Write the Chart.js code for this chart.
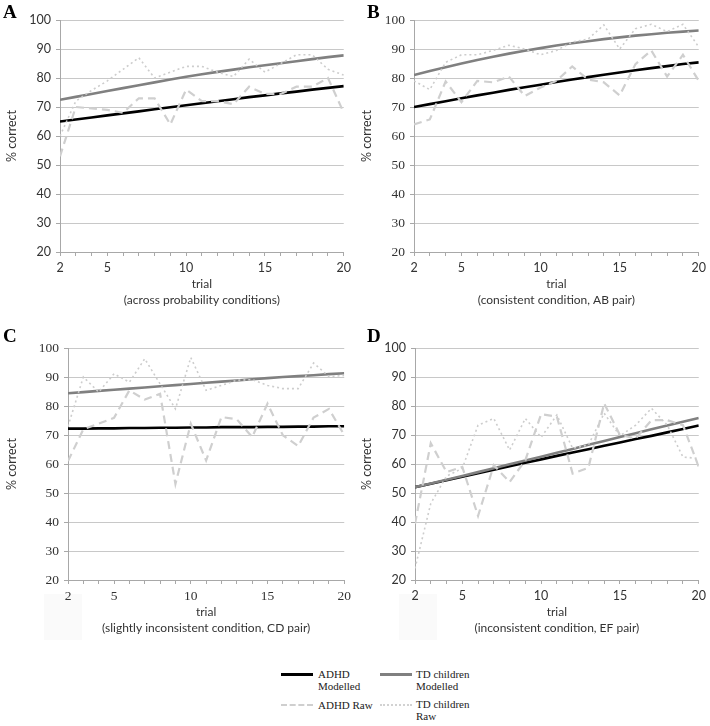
<!DOCTYPE html>
<html>
<head>
<meta charset="utf-8">
<script src="https://cdn.jsdelivr.net/npm/chart.js@4.4.1/dist/chart.umd.min.js"></script>
<style>
  body { margin: 0; background: #fff; }
  #page { position: relative; width: 710px; height: 726px; overflow: hidden; background: #fff; }
  canvas { position: absolute; }
  .letter { position: absolute; font: bold 19px "Liberation Serif", serif; color: #000; }
  .ghost { position: absolute; width: 38px; height: 46px; background: #fafafa; }
  .sample { position: absolute; width: 32px; height: 0; }
  .legtext { position: absolute; font: 11px "Liberation Serif", serif; line-height: 12px; color: #222; }
</style>
</head>
<body>
<div id="page">
  <div class="ghost" style="left:44px;top:594px"></div>
  <div class="ghost" style="left:399px;top:594px"></div>
  <canvas id="chartA" width="355" height="312" style="left:0;top:0"></canvas>
  <canvas id="chartB" width="355" height="312" style="left:355px;top:0"></canvas>
  <canvas id="chartC" width="355" height="312" style="left:0;top:328px"></canvas>
  <canvas id="chartD" width="355" height="312" style="left:355px;top:328px"></canvas>
  <div class="letter" style="left:3px;top:1px">A</div>
  <div class="letter" style="left:367px;top:1px">B</div>
  <div class="letter" style="left:3px;top:325px">C</div>
  <div class="letter" style="left:367px;top:325px">D</div>

  <div class="sample" style="left:281px;top:673px;border-top:3px solid #000"></div>
  <div class="legtext" style="left:318px;top:668px">ADHD<br>Modelled</div>
  <div class="sample" style="left:380px;top:673px;border-top:3px solid #808080"></div>
  <div class="legtext" style="left:416px;top:668px">TD children<br>Modelled</div>
  <div class="sample" style="left:281px;top:704px;border-top:2px dashed #cfcfcf"></div>
  <div class="legtext" style="left:318px;top:699px">ADHD Raw</div>
  <div class="sample" style="left:380px;top:704px;border-top:2px dotted #d2d2d2"></div>
  <div class="legtext" style="left:416px;top:698px">TD children<br>Raw</div>
</div>
<script>
const trials = [2, 3, 4, 5, 6, 7, 8, 9, 10, 11, 12, 13, 14, 15, 16, 17, 18, 19, 20];
const xTickLabels = [2, 5, 10, 15, 20];
const seriesNames = ['ADHD Modelled', 'TD children Modelled', 'ADHD Raw', 'TD children Raw'];

// A: across probability conditions
const adhdModelA = [65.0, 65.7, 66.4, 67.1, 67.8, 68.5, 69.2, 69.9, 70.6, 71.3, 72.0, 72.7, 73.4, 74.0, 74.7, 75.3, 76.0, 76.6, 77.2];
const tdModelA = [72.5, 73.5, 74.5, 75.5, 76.5, 77.5, 78.5, 79.5, 80.4, 81.3, 82.1, 82.9, 83.7, 84.4, 85.1, 85.8, 86.5, 87.2, 87.8];
const adhdRawA = [53, 70, 69.5, 69, 68, 73, 73, 64, 76, 72, 72, 71, 77, 74.5, 74.5, 77, 77, 80, 68];
const tdRawA = [60, 72, 75.7, 79, 83, 87, 80, 82, 84, 84, 82, 80.5, 86.5, 82, 85, 88, 88, 83, 81];

// B: consistent condition, AB pair
const adhdModelB = [70.0, 71.0, 72.0, 73.0, 74.0, 74.9, 75.9, 76.8, 77.7, 78.6, 79.5, 80.3, 81.1, 81.9, 82.7, 83.4, 84.1, 84.8, 85.4];
const tdModelB = [81.0, 82.4, 83.7, 85.0, 86.2, 87.3, 88.4, 89.4, 90.3, 91.2, 92.0, 92.7, 93.4, 94.0, 94.6, 95.1, 95.6, 96.0, 96.4];
const adhdRawB = [64, 65.7, 78.8, 71.7, 79, 78.5, 80.5, 73.8, 76.7, 79, 84, 79.5, 78.5, 74, 84.8, 89.5, 80.5, 88, 79];
const tdRawB = [79, 76, 85.4, 88, 88, 89.5, 91.3, 90, 88, 89.5, 92.4, 93.4, 98.3, 90, 97, 98.5, 96, 98.5, 90.7];

// C: slightly inconsistent condition, CD pair
const adhdModelC = [72.2, 72.2, 72.3, 72.3, 72.4, 72.4, 72.5, 72.5, 72.6, 72.6, 72.7, 72.7, 72.7, 72.8, 72.8, 72.9, 72.9, 73.0, 73.0];
const tdModelC = [84.4, 84.8, 85.2, 85.6, 86.0, 86.4, 86.8, 87.2, 87.6, 88.0, 88.4, 88.8, 89.2, 89.6, 90.0, 90.3, 90.6, 91.0, 91.3];
const adhdRawC = [61, 72, 73.9, 75.9, 85.4, 82.2, 84.2, 53.1, 73.9, 61.2, 76.2, 75.4, 69.3, 80.8, 69.9, 66.2, 76, 79, 70];
const tdRawC = [73, 90, 84.8, 91.1, 88.2, 96.3, 87.6, 79, 96.7, 85.4, 87.1, 88.9, 89.1, 87.1, 86, 86, 94.8, 90.2, 90.5];

// D: inconsistent condition, EF pair
const adhdModelD = [52.0, 53.2, 54.4, 55.6, 56.8, 58.0, 59.2, 60.4, 61.6, 62.8, 64.0, 65.1, 66.3, 67.4, 68.6, 69.7, 70.9, 72.1, 73.3];
const tdModelD = [52.0, 53.3, 54.6, 55.9, 57.2, 58.5, 59.9, 61.2, 62.5, 63.9, 65.2, 66.6, 67.9, 69.3, 70.6, 72.0, 73.3, 74.6, 75.9];
const adhdRawD = [39.4, 67.2, 57.2, 59, 42.1, 59.6, 53.8, 61.3, 77.2, 76.3, 56.7, 58.7, 80.9, 70, 68.8, 75.1, 75.1, 73.4, 59];
const tdRawD = [24, 46.4, 55.8, 58.5, 73.4, 75.7, 64.8, 75.7, 69.2, 76.9, 65.4, 66.6, 77.5, 69.7, 73.4, 79.2, 73.4, 62.4, 61.9];

const sans = { family: 'Lato', size: 12.5 };
const serif = { family: 'Liberation Serif', size: 13.5 };

function points(values) {
  return trials.map((t, i) => ({ x: t, y: values[i] }));
}

function createPanel(id, values, subtitle, yFont, xFont, yWidth, rightPad) {
  const styles = [
    { borderColor: '#000000', borderWidth: 2.6, order: 4 },
    { borderColor: '#808080', borderWidth: 2.6, order: 3 },
    { borderColor: '#cfcfcf', borderWidth: 2.2, borderDash: [8, 5], order: 2 },
    { borderColor: '#cdcdcd', borderWidth: 1.6, borderDash: [2, 3], order: 1 },
  ];
  const datasets = values.map((v, i) => Object.assign({
    label: seriesNames[i],
    data: points(v),
    pointRadius: 0,
    fill: false,
    tension: 0,
  }, styles[i]));

  const ctx = document.getElementById(id).getContext('2d');
  return new Chart(ctx, {
    type: 'line',
    data: { datasets },
    options: {
      responsive: false,
      animation: false,
      layout: { autoPadding: false, padding: { top: 20, right: rightPad, left: 0, bottom: 0 } },
      plugins: { legend: { display: false }, tooltip: { enabled: false } },
      scales: {
        x: {
          type: 'linear',
          min: 2,
          max: 20,
          afterBuildTicks: (scale) => {
            scale.ticks = trials.map((t) => ({ value: t }));
          },
          afterFit: (scale) => {
            scale.height = 60;
          },
          ticks: {
            autoSkip: false,
            maxRotation: 0,
            font: xFont,
            color: '#333',
            padding: 4,
            callback: (v) => (xTickLabels.includes(v) ? String(v) : ''),
          },
          grid: { drawOnChartArea: false, drawTicks: true, tickLength: 4, color: '#a8a8a8' },
          border: { color: '#a8a8a8' },
          title: {
            display: true,
            text: ['trial', subtitle],
            font: { family: 'Lato', size: 12, lineHeight: 1.4 },
            color: '#333',
            padding: { top: 0, bottom: 3 },
          },
        },
        y: {
          min: 20,
          max: 100,
          afterFit: (scale) => {
            scale.width = yWidth;
          },
          ticks: { stepSize: 10, font: yFont, color: '#333', padding: 5 },
          grid: { color: '#c8c8c8', tickColor: '#a8a8a8', tickLength: 4 },
          border: { color: '#a8a8a8' },
          title: {
            display: true,
            text: '% correct',
            font: { family: 'Lato', size: 12.5 },
            color: '#333',
            padding: { top: 4, bottom: 0 },
          },
        },
      },
    },
  });
}

createPanel('chartA', [adhdModelA, tdModelA, adhdRawA, tdRawA], '(across probability conditions)', sans, sans, 60, 9);
createPanel('chartB', [adhdModelB, tdModelB, adhdRawB, tdRawB], '(consistent condition, AB pair)', serif, sans, 59, 10);
createPanel('chartC', [adhdModelC, tdModelC, adhdRawC, tdRawC], '(slightly inconsistent condition, CD pair)', serif, serif, 68, 2);
createPanel('chartD', [adhdModelD, tdModelD, adhdRawD, tdRawD], '(inconsistent condition, EF pair)', sans, sans, 60, 8);
</script>
</body>
</html>
